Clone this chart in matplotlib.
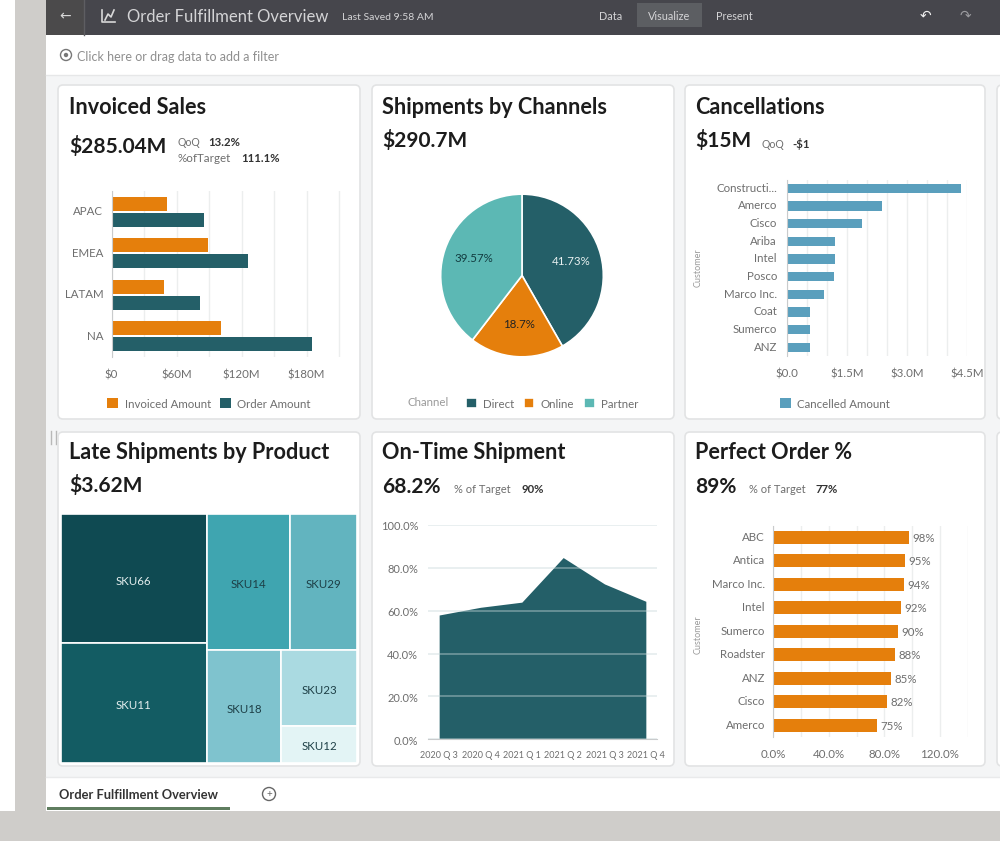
import matplotlib
matplotlib.use('Agg')
from matplotlib import pyplot as plt
from matplotlib.patches import Rectangle, FancyBboxPatch, Circle
from matplotlib.transforms import ScaledTranslation

plt.rcParams['font.family'] = ['Lato', 'DejaVu Sans']

W, H = 1000, 854

# invoiced sales
regions = ['APAC', 'EMEA', 'LATAM', 'NA']
invoiced_amount = [51, 89, 48, 101]
order_amount = [85, 125.5, 81.5, 185]
sales_ticks = [0, 60, 120, 180]
sales_ticklabels = ['$0', '$60M', '$120M', '$180M']

# shipments by channel
channels = ['Direct', 'Online', 'Partner']
channel_share = [41.73, 18.7, 39.57]
channel_labels = ['41.73%', '18.7%', '39.57%']

# cancellations
cancel_customers = ['Constructi...', 'Amerco', 'Cisco', 'Ariba', 'Intel', 'Posco', 'Marco Inc.', 'Coat', 'Sumerco', 'ANZ']
cancel_amount = [4.34, 2.37, 1.87, 1.2, 1.2, 1.18, 0.93, 0.59, 0.59, 0.58]
cancel_ticks = [0, 1.5, 3.0, 4.5]
cancel_ticklabels = ['$0.0', '$1.5M', '$3.0M', '$4.5M']

# late shipments, in $M
sku_left = [('SKU66', 0.925), ('SKU11', 0.86)]
sku_top = [('SKU14', 0.556), ('SKU29', 0.448)]
sku_18 = ('SKU18', 0.41)
sku_stack = [('SKU23', 0.281), ('SKU12', 0.14)]
sku_colors = {'SKU66': '#0f4a52', 'SKU11': '#135c63', 'SKU14': '#3fa5b0', 'SKU29': '#62b4bf',
              'SKU18': '#7fc3ce', 'SKU23': '#aadae1', 'SKU12': '#e3f4f5'}

# on time shipment
quarters = ['2020 Q 3', '2020 Q 4', '2021 Q 1', '2021 Q 2', '2021 Q 3', '2021 Q 4']
on_time = [58, 61.6, 64, 84.8, 72.5, 64.4]
on_time_ticks = [0, 20, 40, 60, 80, 100]

# perfect order
perfect_customers = ['ABC', 'Antica', 'Marco Inc.', 'Intel', 'Sumerco', 'Roadster', 'ANZ', 'Cisco', 'Amerco']
perfect_pct = [98, 95, 94, 92, 90, 88, 85, 82, 75]
perfect_ticks = [0, 40, 80, 120]
perfect_ticklabels = ['0.0%', '40.0%', '80.0%', '120.0%']

TEAL = '#245f68'
ORANGE = '#e57f0c'
AQUA = '#5cb8b4'
BLUE = '#5a9fbd'
GRID = '#eceeee'
AXIS = '#c9cbcc'
LABEL = '#6e6e6e'
INK = '#1c1c1c'
GRAY = '#cfcdca'
TICK_SIZE = 8.3


def add_px_axes(x0, y0, x1, y1):
    return fig.add_axes([x0 / W, 1 - y1 / H, (x1 - x0) / W, (y1 - y0) / H])


def card(x0, y0, x1, y1):
    bg.add_patch(FancyBboxPatch((x0, y0), x1 - x0, y1 - y0, boxstyle='round,pad=0,rounding_size=5',
                                fc='white', ec='#e2e3e4', lw=1.2, zorder=2))


def txt(x, y, s, size=8, color=LABEL, weight='normal', ha='left', **kw):
    bg.text(x, y, s, fontsize=size, color=color, fontweight=weight, ha=ha, va='center', zorder=5, **kw)


def heading(x, y, title, value, value_y):
    txt(x, y, title, size=15.6, color=INK, weight='bold')
    txt(x, value_y, value, size=15, color=INK, weight='bold')


def clean(ax, left=True):
    for s in ax.spines.values():
        s.set_visible(False)
    if left:
        ax.spines['left'].set_visible(True)
        ax.spines['left'].set_color(AXIS)
    ax.tick_params(length=0, labelsize=TICK_SIZE, labelcolor=LABEL)
    ax.patch.set_alpha(0)


def raise_labels(labels, px=2):
    # labels sit a little above the row centre in the dashboard
    for lab in labels:
        lab.set_transform(lab.get_transform() + ScaledTranslation(0, px / 100, fig.dpi_scale_trans))


def square_legend(ax, handles, labels, x, y, spacing=0.8):
    leg = ax.legend(handles, labels, loc='center', bbox_to_anchor=(x / W, 1 - y / H), bbox_transform=fig.transFigure,
                    frameon=False, ncol=len(labels), fontsize=TICK_SIZE, handlelength=0.95, handleheight=0.95,
                    handletextpad=0.55, columnspacing=spacing, borderpad=0, labelcolor=LABEL)
    return leg


fig = plt.figure(figsize=(W / 100, H / 100), dpi=100, facecolor='white')
bg = fig.add_axes([0, 0, 1, 1])
bg.set_xlim(0, W)
bg.set_ylim(H, 0)
bg.axis('off')

# page chrome
bg.add_patch(Rectangle((15, 0), 31, 812, fc=GRAY, ec='none'))
bg.add_patch(Rectangle((0, 812), W, 30, fc=GRAY, ec='none'))
bg.add_patch(Rectangle((46, 76), W - 46, 702, fc='#f4f5f6', ec='none'))
bg.plot([46, W], [76, 76], color='#e6e7e8', lw=1)
bg.plot([46, W], [778, 778], color='#e9eaeb', lw=1)
bg.add_patch(Rectangle((46, 0), W - 46, 36, fc='#46464c', ec='none'))
bg.add_patch(Rectangle((46, 0), 38, 36, fc='#4b4a4b', ec='none'))
bg.plot([84, 84], [0, 36], color='#5e5e62', lw=1)
bg.add_patch(Rectangle((637, 4), 65, 24, fc='#5c5e62', ec='none', zorder=2))
txt(65, 16, '←', size=10, color='#d8d8d8', family='DejaVu Sans', ha='center')
bg.plot([102, 102, 115], [11, 23, 23], color='#d8d8d8', lw=1.2, zorder=3)
bg.plot([105, 108, 111, 114], [21, 15, 18, 11], color='#d8d8d8', lw=1.2, zorder=3)
txt(127, 17, 'Order Fulfillment Overview', size=12, color='#d4d4d6')
txt(342, 17, 'Last Saved 9:58 AM', size=7.5, color='#d4d4d6')
txt(611, 17, 'Data', size=7.8, color='#d4d4d6', ha='center')
txt(669, 17, 'Visualize', size=7.8, color='#d4d4d6', ha='center')
txt(734, 17, 'Present', size=7.8, color='#d4d4d6', ha='center')
txt(925, 16, '↶', size=10, color='#f0f0f0', family='DejaVu Sans', ha='center')
txt(965, 16, '↷', size=10, color='#9b9b9f', family='DejaVu Sans', ha='center')

bg.add_patch(Circle((66, 56), 5.5, fc='none', ec='#777777', lw=1, zorder=3))
bg.add_patch(Circle((66, 56), 2.2, fc='#777777', ec='none', zorder=3))
txt(77, 57, 'Click here or drag data to add a filter', size=9, color='#8f8f8f')

txt(59, 795, 'Order Fulfillment Overview', size=9.3, color='#333333', weight='bold')
bg.add_patch(Rectangle((47, 808), 183, 3, fc='#5f7d5f', ec='none', zorder=3))
bg.add_patch(Circle((269, 795), 6.5, fc='none', ec='#666666', lw=1, zorder=3))
txt(269, 795, '+', size=7, color='#666666', ha='center')
bg.plot([51, 51], [432, 445], color='#b8b8b8', lw=1)
bg.plot([56, 56], [432, 445], color='#b8b8b8', lw=1)

# cards
for x0, x1 in [(58, 360), (372, 674), (685, 985), (997, 1010)]:
    card(x0, 86, x1, 420)
    card(x0, 433, x1, 767)

heading(69, 108, 'Invoiced Sales', '$285.04M', 146)
txt(178, 142, 'QoQ', size=7.6)
txt(208, 142, '13.2%', size=8.2, color='#333333', weight='bold')
txt(178, 158, '%ofTarget', size=8.4)
txt(241, 158, '111.1%', size=8.2, color='#333333', weight='bold')

heading(382, 108, 'Shipments by Channels', '$290.7M', 141)

heading(695, 108, 'Cancellations', '$15M', 141)
txt(762, 144, 'QoQ', size=7.6)
txt(792, 144, '-$1', size=8.2, color='#333333', weight='bold')

heading(69, 453, 'Late Shipments by Product', '$3.62M', 486)

heading(382, 453, 'On-Time Shipment', '68.2%', 487)
txt(454, 490, '% of Target', size=8)
txt(522, 490, '90%', size=8.2, color='#333333', weight='bold')

heading(695, 453, 'Perfect Order %', '89%', 487)
txt(749, 490, '% of Target', size=8)
txt(816, 490, '77%', size=8.2, color='#333333', weight='bold')

# invoiced sales bars
ax = add_px_axes(111.5, 192, 342, 358)
clean(ax)
ypos = range(len(regions))
bar_i = ax.barh([y - 0.195 for y in ypos], invoiced_amount, height=0.34, color=ORANGE)
bar_o = ax.barh([y + 0.195 for y in ypos], order_amount, height=0.34, color=TEAL)
ax.set_xlim(0, 212.7)
ax.set_ylim(3.5, -0.5)
ax.set_yticks(list(ypos), regions)
ax.set_xticks(sales_ticks, sales_ticklabels)
ax.set_xticks(range(30, 211, 30), minor=True)
ax.tick_params(axis='x', which='minor', length=0)
ax.grid(axis='x', which='both', color=GRID, lw=1)
ax.set_axisbelow(True)
ax.tick_params(axis='x', pad=8)
ax.tick_params(axis='y', pad=6)
raise_labels(ax.get_yticklabels())
square_legend(ax, [bar_i, bar_o], ['Invoiced Amount', 'Order Amount'], 209, 404)

# channel pie
ax = add_px_axes(430, 185, 614, 368)
wedges, _, pct_texts = ax.pie(channel_share, colors=[TEAL, ORANGE, AQUA], startangle=90, counterclock=False,
                              radius=1, autopct='%.2f', pctdistance=0.62,
                              wedgeprops={'edgecolor': 'white', 'linewidth': 1.2})
ax.set_xlim(-1.125, 1.125)
ax.set_ylim(-1.125, 1.125)
for t, s, c in zip(pct_texts, channel_labels, ['#e8f0f0', '#222222', '#123c40']):
    t.set_text(s)
    t.set_color(c)
    t.set_fontsize(TICK_SIZE)
raise_labels(pct_texts)
txt(407, 403, 'Channel', size=TICK_SIZE, color='#9a9a9a')
square_legend(ax, wedges, channels, 552, 404)

# cancellations bars
ax = add_px_axes(786.7, 180.5, 967, 357.1)
clean(ax)
ax.barh(range(len(cancel_customers)), cancel_amount, height=0.54, color=BLUE, label='Cancelled Amount')
ax.set_xlim(0, 4.5)
ax.set_ylim(len(cancel_customers) - 0.5, -0.5)
ax.set_yticks(range(len(cancel_customers)), cancel_customers)
ax.set_xticks(cancel_ticks, cancel_ticklabels)
ax.set_xticks([v / 2 for v in range(1, 9)], minor=True)
ax.tick_params(axis='x', which='minor', length=0)
ax.grid(axis='x', which='both', color=GRID, lw=1)
ax.set_axisbelow(True)
ax.tick_params(axis='x', pad=8)
ax.tick_params(axis='y', pad=7)
raise_labels(ax.get_yticklabels())
txt(698, 268, 'Customer', size=6.5, color='#9a9a9a', ha='center', rotation=90)
h, l = ax.get_legend_handles_labels()
square_legend(ax, h, l, 835, 404)

# treemap, nested slices of the late shipment values
ax = add_px_axes(60.7, 515, 357.3, 764)
ax.axis('off')
ax.set_xlim(0, 1)
ax.set_ylim(1, 0)


def sku_cell(name, x, y, w, h):
    ax.add_patch(Rectangle((x, y), w, h, fc=sku_colors[name], ec='white', lw=1.2))
    light = name in ('SKU66', 'SKU11')
    ax.text(x + w / 2, y + h / 2 + 0.007, name, ha='center', va='center', fontsize=TICK_SIZE,
            color='#e4eeee' if light else '#1d3f46')


left_total = sum(v for _, v in sku_left)
top_total = sum(v for _, v in sku_top)
stack_total = sum(v for _, v in sku_stack)
total = left_total + top_total + sku_18[1] + stack_total
left_w = left_total / total
right_w = 1 - left_w

y = 0
for name, v in sku_left:
    sku_cell(name, 0, y, left_w, v / left_total)
    y += v / left_total

top_h = top_total / (total - left_total)
x = left_w
for name, v in sku_top:
    sku_cell(name, x, 0, right_w * v / top_total, top_h)
    x += right_w * v / top_total

low_total = sku_18[1] + stack_total
w18 = right_w * sku_18[1] / low_total
sku_cell(sku_18[0], left_w, top_h, w18, 1 - top_h)
y = top_h
for name, v in sku_stack:
    sku_cell(name, left_w + w18, y, right_w - w18, (1 - top_h) * v / stack_total)
    y += (1 - top_h) * v / stack_total

# on time area
ax = add_px_axes(428, 526, 657, 740.3)
clean(ax, left=False)
ax.fill_between(range(len(quarters)), on_time, color=TEAL, lw=0)
ax.set_xlim(-0.27, 5.27)
ax.set_ylim(0, 100)
ax.set_xticks(range(len(quarters)), quarters)
ax.set_yticks(on_time_ticks, ['%.1f%%' % v for v in on_time_ticks])
ax.grid(axis='y', color='#c8d8da', alpha=0.4, lw=1.4)
ax.set_axisbelow(False)
ax.spines['bottom'].set_visible(True)
ax.spines['bottom'].set_color(AXIS)
ax.tick_params(axis='x', pad=8, labelsize=6.5)
ax.tick_params(axis='y', pad=7, labelsize=8)

# perfect order bars
ax = add_px_axes(773.3, 526.6, 967.6, 738)
clean(ax)
bars = ax.barh(range(len(perfect_customers)), perfect_pct, height=0.54, color=ORANGE)
ax.set_xlim(0, 140)
ax.set_ylim(len(perfect_customers) - 0.5, -0.5)
ax.set_yticks(range(len(perfect_customers)), perfect_customers)
ax.set_xticks(perfect_ticks, perfect_ticklabels)
ax.set_xticks(range(20, 141, 20), minor=True)
ax.tick_params(axis='x', which='minor', length=0)
ax.grid(axis='x', which='both', color=GRID, lw=1)
ax.set_axisbelow(True)
vals = ax.bar_label(bars, labels=['%d%%' % v for v in perfect_pct], padding=2.5, fontsize=TICK_SIZE, color=LABEL)
raise_labels(vals)
ax.tick_params(axis='x', pad=8)
ax.tick_params(axis='y', pad=6)
raise_labels(ax.get_yticklabels())
txt(698, 635, 'Customer', size=6.5, color='#9a9a9a', ha='center', rotation=90)

plt.savefig('out.png', dpi=100)
plt.close()
